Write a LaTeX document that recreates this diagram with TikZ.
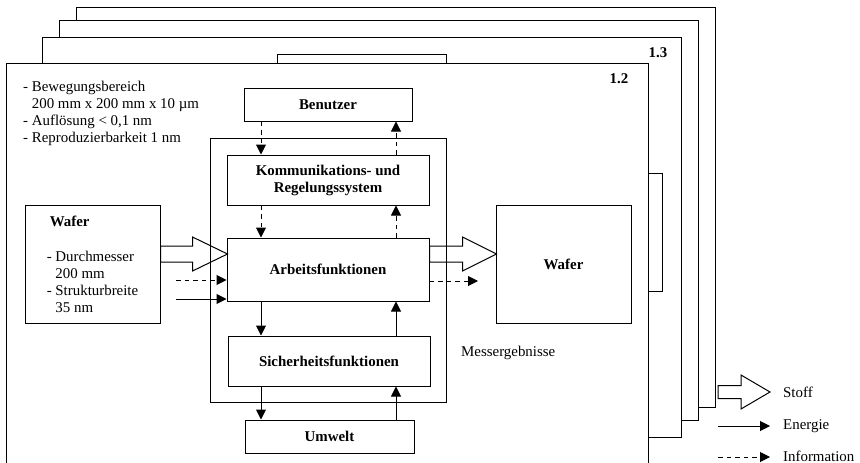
\documentclass[tikz,border=0pt]{standalone}
\usepackage{fontspec}
\setmainfont{Liberation Serif}
\usetikzlibrary{arrows.meta,calc}

\newcommand{\grund}{\fontsize{14.9}{17}\selectfont}

\tikzset{
  rahmen/.style={draw, line width=1pt, fill=white},
  block/.style={draw, line width=1pt, font=\grund\bfseries, align=center},
  beschriftung/.style={inner sep=0pt, align=left},
  info/.style={->, line width=1pt, dash pattern=on 4.5pt off 4pt},
  energie/.style={->, line width=1pt},
  stoff/.style={draw, line width=1pt, line join=miter},
}

% Stoffpfeil: Start, Schaftlaenge, Spitzenlaenge, halbe Schaftbreite
\newcommand{\stoffpfeil}[4]{%
  \draw[stoff] (#1) ++(0,-#4) -- ++(#2,0) -- ++(0,#4-17) -- ++(#3,17)
    -- ++(-#3,17) -- ++(0,#4-17) -- ++(-#2,0) -- cycle;}

\begin{document}
\begin{tikzpicture}[x=1pt, y=-1pt, font=\grund,
    >={Triangle[length=10pt,width=10pt]}]
  \useasboundingbox (0,0) rectangle (860,463);

  % hintere Ebenen
  \draw[rahmen] (76,7) rectangle (715,407);
  \draw[rahmen] (59,20) rectangle (698,420);
  \draw[rahmen] (42,37) rectangle (681,437);
  \node[font=\grund\bfseries] (n13) at (658,53) {1.3};
  \draw[rahmen] (277,54) rectangle (446,80);
  \draw[rahmen] (600,173) rectangle (662,291);

  % Ebene 1.2
  \path[fill=white] (6,63) rectangle (648,463);
  \draw[line width=1pt] (6,463) -- (6,63) -- (648,63) -- (648,463);
  \node[font=\grund\bfseries] (n12) at (619,79) {1.2};

  \node[beschriftung, anchor=north west] (daten) at (23,81)
    {- Bewegungsbereich\\\phantom{- }200 mm x 200 mm x 10 µm\\- Auflösung < 0,1 nm\\- Reproduzierbarkeit 1 nm};

  % System
  \node[draw, line width=1pt, inner sep=0pt, minimum width=236pt,
    minimum height=264pt] (system) at (328,270) {};
  \node[block, minimum width=168pt, minimum height=33pt] (benutzer) at (328,104.5) {Benutzer};
  \node[block, minimum width=202pt, minimum height=50pt] (komm) at (328,180)
    {Kommunikations- und\\Regelungssystem};
  \node[block, minimum width=202pt, minimum height=63pt] (arbeit) at (328,269.5) {Arbeitsfunktionen};
  \node[block, minimum width=202pt, minimum height=50pt] (sicher) at (329,361) {Sicherheitsfunktionen};
  \node[block, minimum width=169pt, minimum height=33pt] (umwelt) at (329.5,436.5) {Umwelt};

  \node[draw, line width=1pt, align=left, minimum width=135pt, minimum height=118pt]
    (waferein) at (92.5,264)
    {\hspace*{3pt}\textbf{Wafer}\\[18pt]- Durchmesser\\\phantom{- }200 mm\\- Strukturbreite\\\phantom{- }35 nm};
  \node[block, minimum width=135pt, minimum height=118pt] (waferaus) at (563.5,264) {Wafer};

  % Fluesse zwischen den Funktionen
  \coordinate (links) at (261,0);
  \coordinate (rechts) at (396,0);
  \draw[info] (benutzer.south -| links) -- (komm.north -| links);
  \draw[info] (komm.north -| rechts) -- (benutzer.south -| rechts);
  \draw[info] (komm.south -| links) -- (arbeit.north -| links);
  \draw[info] (arbeit.north -| rechts) -- (komm.south -| rechts);
  \draw[energie] (arbeit.south -| links) -- (sicher.north -| links);
  \draw[energie] (sicher.north -| rechts) -- (arbeit.south -| rechts);
  \draw[energie] (sicher.south -| links) -- (umwelt.north -| links);
  \draw[energie] (umwelt.north -| rechts) -- (sicher.south -| rechts);

  % Eingang
  \coordinate (stoffein) at (waferein.east |- 0,254);
  \stoffpfeil{stoffein}{32}{35}{8}
  \coordinate (infoein) at (176,280);
  \coordinate (energieein) at (176,299);
  \draw[info] (infoein) -- (infoein -| arbeit.west);
  \draw[energie] (energieein) -- (energieein -| arbeit.west);

  % Ausgang
  \coordinate (stoffaus) at (arbeit.east |- 0,254);
  \stoffpfeil{stoffaus}{33}{34}{8}
  \coordinate (infoaus) at (478,281);
  \draw[info] (infoaus -| arbeit.east) -- (infoaus);
  \node[beschriftung, anchor=west] (mess) at (461,353) {Messergebnisse};

  % Legende
  \coordinate (lstoff) at (718,392);
  \stoffpfeil{lstoff}{23}{29}{6.5}
  \node[beschriftung, anchor=west] (tstoff) at (783,392) {Stoff};
  \coordinate (lenergie) at (718,426);
  \node[beschriftung, anchor=west] (tenergie) at (783,426) {Energie};
  \draw[energie] (lenergie) -- ([xshift=-13pt]tenergie.west);
  \coordinate (linfo) at (718,457);
  \node[beschriftung, anchor=west] (tinfo) at (783,456) {Information};
  \draw[info] (linfo) -- ([xshift=-13pt]tinfo.west |- linfo);
\end{tikzpicture}
\end{document}
